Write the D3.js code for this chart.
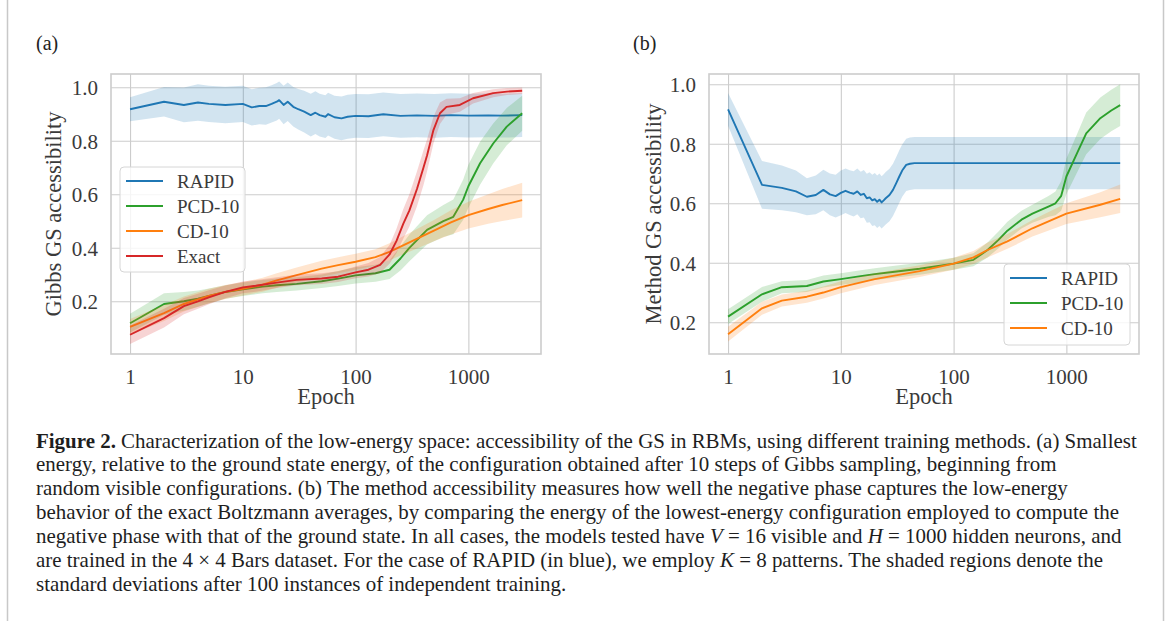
<!DOCTYPE html>
<html><head><meta charset="utf-8">
<script src="https://cdn.jsdelivr.net/npm/d3@7"></script>
<style>body{margin:0;background:#fff}svg{display:block}</style>
</head><body>
<svg id="c" width="1170" height="621"></svg>
<script>
// ---------- DATA ----------
const xTicks = [1, 10, 100, 1000];
const yTicks = [0.2, 0.4, 0.6, 0.8, 1.0];
const seriesNamesA = ["RAPID", "PCD-10", "CD-10", "Exact"];
const seriesNamesB = ["RAPID", "PCD-10", "CD-10"];
const colors = {"RAPID": "#1f77b4", "PCD-10": "#2ca02c", "CD-10": "#ff7f0e", "Exact": "#d62728"};

// Panel (a): Gibbs GS accessibility
const rapidA_x = [1,2,3,4,5,7,10,12,14,16,18,20,21,23,25,28,31,35,40,44,48,54,57,65,75,85,100,130,176,250,350,500,700,1000,1500,2000,3000];
const rapidA_y = [0.918,0.946,0.934,0.943,0.938,0.934,0.938,0.925,0.93,0.93,0.938,0.946,0.952,0.934,0.946,0.927,0.918,0.909,0.896,0.905,0.896,0.89,0.9,0.888,0.884,0.89,0.893,0.892,0.899,0.893,0.895,0.893,0.896,0.894,0.895,0.894,0.896];
const rapidA_s = [0.045,0.055,0.065,0.068,0.068,0.068,0.068,0.068,0.068,0.07,0.07,0.07,0.07,0.072,0.072,0.074,0.076,0.078,0.08,0.08,0.08,0.08,0.08,0.08,0.082,0.082,0.082,0.082,0.082,0.082,0.082,0.082,0.082,0.082,0.082,0.082,0.082];

const pcdA_x = [1,2,3,4,5,7,10,15,20,30,50,70,100,150,200,250,300,430,600,735,900,1000,1270,1660,2190,3000];
const pcdA_y = [0.118,0.19,0.20,0.21,0.22,0.235,0.245,0.255,0.26,0.265,0.275,0.285,0.297,0.305,0.318,0.36,0.40,0.467,0.50,0.516,0.58,0.63,0.716,0.79,0.853,0.903];
const pcdA_s = [0.035,0.04,0.035,0.03,0.028,0.025,0.025,0.025,0.025,0.025,0.025,0.028,0.03,0.032,0.035,0.045,0.05,0.055,0.06,0.065,0.075,0.08,0.08,0.075,0.07,0.065];

const cdA_x = [1,2,3,5,7,10,15,20,30,50,70,100,150,200,300,500,700,1000,1500,2000,3000];
const cdA_y = [0.104,0.156,0.19,0.22,0.235,0.247,0.262,0.278,0.298,0.322,0.335,0.348,0.365,0.385,0.42,0.465,0.495,0.522,0.545,0.56,0.578];
const cdA_s = [0.03,0.03,0.028,0.027,0.026,0.025,0.026,0.027,0.028,0.03,0.03,0.03,0.03,0.032,0.035,0.04,0.045,0.05,0.055,0.06,0.065];

const exactA_x = [1,2,3,4,5,7,10,13,20,30,50,70,100,130,165,200,230,265,300,350,400,430,490,560,640,840,1100,1660,2200,3000];
const exactA_y = [0.075,0.137,0.182,0.20,0.215,0.235,0.252,0.258,0.27,0.28,0.285,0.292,0.308,0.318,0.336,0.375,0.425,0.49,0.54,0.62,0.70,0.745,0.84,0.903,0.927,0.934,0.959,0.978,0.984,0.987];
const exactA_s = [0.035,0.035,0.03,0.028,0.026,0.024,0.022,0.022,0.02,0.02,0.02,0.02,0.022,0.025,0.03,0.035,0.045,0.055,0.06,0.065,0.065,0.06,0.05,0.04,0.03,0.025,0.02,0.015,0.013,0.012];

// Panel (b): Method GS accessibility
const rapidB_x = [1,2,3,4,5,6,7,8,9,10,11,12,13,14,15,16,17,18,19,20,21,22,23,24,25,27,29,31,33,35,38,41,45,100,1000,3000];
const rapidB_y = [0.916,0.662,0.652,0.64,0.622,0.628,0.645,0.63,0.624,0.635,0.642,0.636,0.632,0.64,0.628,0.632,0.617,0.62,0.61,0.614,0.605,0.612,0.603,0.61,0.617,0.628,0.645,0.668,0.69,0.71,0.729,0.733,0.735,0.735,0.735,0.735];
const rapidB_s = [0.055,0.08,0.075,0.07,0.062,0.065,0.068,0.07,0.072,0.075,0.075,0.075,0.076,0.077,0.078,0.08,0.082,0.084,0.086,0.088,0.088,0.088,0.088,0.088,0.088,0.088,0.088,0.088,0.088,0.088,0.088,0.088,0.088,0.088,0.088,0.088];

const pcdB_x = [1,2,3,5,7,10,15,20,30,50,100,150,200,250,300,400,500,700,800,900,1000,1250,1500,2000,2500,3000];
const pcdB_y = [0.219,0.294,0.318,0.322,0.337,0.345,0.355,0.362,0.37,0.38,0.397,0.41,0.443,0.477,0.508,0.545,0.565,0.59,0.60,0.625,0.69,0.77,0.835,0.886,0.912,0.93];
const pcdB_s = [0.025,0.025,0.02,0.02,0.02,0.02,0.02,0.02,0.02,0.02,0.02,0.022,0.025,0.028,0.03,0.03,0.03,0.035,0.04,0.05,0.06,0.065,0.07,0.07,0.07,0.07];

const cdB_x = [1,2,3,5,7,10,20,50,100,150,200,300,500,1000,2000,3000];
const cdB_y = [0.16,0.247,0.273,0.286,0.30,0.318,0.345,0.372,0.397,0.418,0.443,0.472,0.516,0.565,0.595,0.615];
const cdB_s = [0.025,0.022,0.02,0.02,0.02,0.02,0.02,0.02,0.02,0.022,0.025,0.025,0.028,0.035,0.042,0.048];

const captionLines = [
  [["b","Figure 2."],["n"," Characterization of the low-energy space: accessibility of the GS in RBMs, using different training methods. (a) Smallest"]],
  [["n","energy, relative to the ground state energy, of the configuration obtained after 10 steps of Gibbs sampling, beginning from"]],
  [["n","random visible configurations. (b) The method accessibility measures how well the negative phase captures the low-energy"]],
  [["n","behavior of the exact Boltzmann averages, by comparing the energy of the lowest-energy configuration employed to compute the"]],
  [["n","negative phase with that of the ground state. In all cases, the models tested have "],["i","V"],["n"," = 16 visible and "],["i","H"],["n"," = 1000 hidden neurons, and"]],
  [["n","are trained in the 4 \u00d7 4 Bars dataset. For the case of RAPID (in blue), we employ "],["i","K"],["n"," = 8 patterns. The shaded regions denote the"]],
  [["n","standard deviations after 100 instances of independent training."]]
];

// ---------- DRAW ----------
const svg = d3.select("#c");
const SERIF = "'Liberation Serif', 'Times New Roman', serif";
const TXT = "#3a3a3a";
const GRID = "#cccccc";

svg.append("rect").attr("width",1170).attr("height",621).attr("fill","#fff");
svg.append("line").attr("x1",7.5).attr("x2",7.5).attr("y1",0).attr("y2",621).attr("stroke","#c8c8c8").attr("stroke-width",1.5);
svg.append("line").attr("x1",1163.5).attr("x2",1163.5).attr("y1",0).attr("y2",621).attr("stroke","#c8c8c8").attr("stroke-width",1.5);

function panel(cfg) {
  const x = d3.scaleLog().domain([Math.pow(10,-0.169), Math.pow(10,3.644)]).range([cfg.left, cfg.right]);
  const y = d3.scaleLinear().domain(cfg.ydom).range([cfg.bottom, cfg.top]);
  const g = svg.append("g");

  // grid via axes
  const gx = g.append("g").attr("transform",`translate(0,${cfg.bottom})`)
    .call(d3.axisBottom(x).tickValues(xTicks).tickFormat(d3.format("d")).tickSize(-(cfg.bottom-cfg.top)).tickPadding(15));
  gx.select(".domain").remove();
  gx.selectAll(".tick line").attr("stroke",GRID).attr("stroke-width",1.1);
  gx.selectAll(".tick text").attr("font-family",SERIF).attr("font-size",21).attr("fill",TXT).attr("dy","0.71em");

  const gy = g.append("g").attr("transform",`translate(${cfg.left},0)`)
    .call(d3.axisLeft(y).tickValues(yTicks).tickFormat(d3.format(".1f")).tickSize(-(cfg.right-cfg.left)).tickPadding(13));
  gy.select(".domain").remove();
  gy.selectAll(".tick line").attr("stroke",GRID).attr("stroke-width",1.1);
  gy.selectAll(".tick text").attr("font-family",SERIF).attr("font-size",21).attr("fill",TXT).attr("dy","0.36em");

  // spines
  g.append("rect").attr("x",cfg.left).attr("y",cfg.top).attr("width",cfg.right-cfg.left).attr("height",cfg.bottom-cfg.top)
    .attr("fill","none").attr("stroke",GRID).attr("stroke-width",1.6);

  const clipId = "clip"+cfg.id;
  svg.append("clipPath").attr("id",clipId).append("rect")
    .attr("x",cfg.left).attr("y",cfg.top).attr("width",cfg.right-cfg.left).attr("height",cfg.bottom-cfg.top);
  const plot = g.append("g").attr("clip-path",`url(#${clipId})`);

  cfg.series.forEach(s => {
    const pts = s.x.map((xv,i)=>({x:xv, y:s.y[i], sd:s.s[i]}));
    const area = d3.area().x(d=>x(d.x)).y0(d=>y(d.y-d.sd)).y1(d=>y(d.y+d.sd));
    plot.append("path").attr("d",area(pts)).attr("fill",colors[s.name]).attr("fill-opacity",0.2).attr("stroke","none");
    const line = d3.line().x(d=>x(d.x)).y(d=>y(d.y));
    plot.append("path").attr("d",line(pts)).attr("fill","none").attr("stroke",colors[s.name])
      .attr("stroke-width",1.9).attr("stroke-linejoin","round");
  });

  // labels
  g.append("text").attr("x",(cfg.left+cfg.right)/2).attr("y",404).attr("text-anchor","middle")
    .attr("font-family",SERIF).attr("font-size",22.5).attr("fill",TXT).text("Epoch");
  g.append("text").attr("transform",`translate(${cfg.ylabX},${(cfg.top+cfg.bottom)/2}) rotate(-90)`)
    .attr("text-anchor","middle").attr("dominant-baseline","central")
    .attr("font-family",SERIF).attr("font-size",22.5).attr("fill",TXT).text(cfg.ylabel);
  g.append("text").attr("x",cfg.tagX).attr("y",50).attr("font-family",SERIF).attr("font-size",20).attr("fill","#222").text(cfg.tag);

  // legend
  const L = cfg.legend;
  const lg = g.append("g");
  lg.append("rect").attr("x",L.x).attr("y",L.y).attr("width",L.w).attr("height",L.h).attr("rx",4)
    .attr("fill","#fff").attr("fill-opacity",0.8).attr("stroke","#d6d6d6").attr("stroke-width",1);
  L.names.forEach((n,i)=>{
    const yy = L.y + L.first + i*25;
    lg.append("line").attr("x1",L.x+6).attr("x2",L.x+43).attr("y1",yy).attr("y2",yy)
      .attr("stroke",colors[n]).attr("stroke-width",2);
    lg.append("text").attr("x",L.x+57).attr("y",yy).attr("dy","0.35em").attr("font-family",SERIF)
      .attr("font-size",19).attr("fill",TXT).text(n);
  });
}

panel({id:"a", left:111, right:541, top:74, bottom:354, ydom:[0.003,1.0497],
  ylabel:"Gibbs GS accessibility", ylabX:53, tag:"(a)", tagX:36,
  series:[
    {name:"RAPID", x:rapidA_x, y:rapidA_y, s:rapidA_s},
    {name:"PCD-10", x:pcdA_x, y:pcdA_y, s:pcdA_s},
    {name:"CD-10", x:cdA_x, y:cdA_y, s:cdA_s},
    {name:"Exact", x:exactA_x, y:exactA_y, s:exactA_s}],
  legend:{x:120, y:167, w:125, h:105, first:14, names:seriesNamesA}
});
panel({id:"b", left:709, right:1139, top:74, bottom:354, ydom:[0.0934,1.0346],
  ylabel:"Method GS accessibility", ylabX:653, tag:"(b)", tagX:633,
  series:[
    {name:"RAPID", x:rapidB_x, y:rapidB_y, s:rapidB_s},
    {name:"PCD-10", x:pcdB_x, y:pcdB_y, s:pcdB_s},
    {name:"CD-10", x:cdB_x, y:cdB_y, s:cdB_s}],
  legend:{x:1004, y:264, w:126, h:81, first:14, names:seriesNamesB}
});

// caption
const cap = svg.append("g");
const lines = captionLines.map((parts,i)=>{
  const t = cap.append("text").attr("x",36).attr("y",447.5 + i*23.85)
    .attr("font-family",SERIF).attr("font-size",18).attr("fill","#1e1e1e");
  parts.forEach(p=>{
    const ts = t.append("tspan").text(p[1]);
    if (p[0]==="b") ts.attr("font-weight","bold");
    if (p[0]==="i") ts.attr("font-style","italic");
  });
  return t;
});
const w0 = lines[0].node().getComputedTextLength();
const fs = 18 * 1101 / w0;
lines.forEach(t=>t.attr("font-size",fs));
</script>
</body></html>
